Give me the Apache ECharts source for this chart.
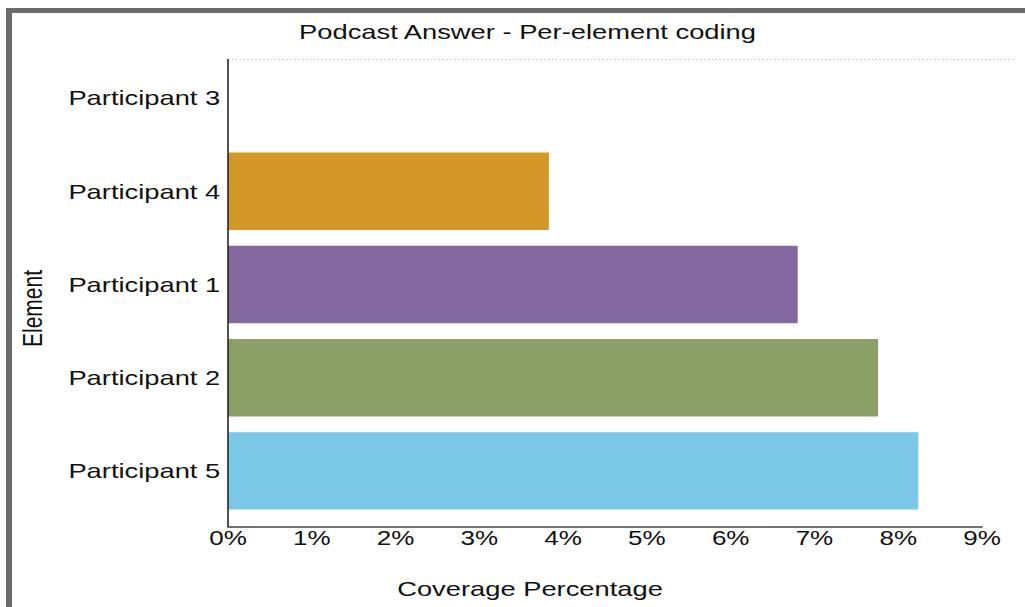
<!DOCTYPE html>
<html>
<head>
<meta charset="utf-8">
<style>
  html, body { margin: 0; padding: 0; background: #ffffff; overflow: hidden; }
  /* the chart is laid out at a narrower width and stretched horizontally */
  #chart { width: 788px; height: 607px; transform-origin: 0 0; transform: scaleX(1.30076); }
</style>
<script src="https://cdn.jsdelivr.net/npm/echarts@6/dist/echarts.min.js"></script>
</head>
<body>
<div id="chart"></div>
<script>
// Coverage per participant, listed top to bottom
const categories = ['Participant 3', 'Participant 4', 'Participant 1', 'Participant 2', 'Participant 5'];
const coverage = [0, 3.83, 6.80, 7.76, 8.24];
const barColors = ['#7ac8e6', '#d3972a', '#8468a0', '#8c9f67', '#7ac8e6'];
const xTicks = [0, 1, 2, 3, 4, 5, 6, 7, 8, 9];

const FONT = '"Liberation Sans", Arial, Helvetica, sans-serif';
const SX = 1025 / 788;          // horizontal stretch applied by CSS
const lx = x => x / SX;         // screen x -> layout x

const chart = echarts.init(document.getElementById('chart'), null, { renderer: 'svg' });

chart.setOption({
  backgroundColor: '#ffffff',
  animation: false,
  title: {
    text: 'Podcast Answer - Per-element coding',
    left: lx(521),
    top: 16,
    textAlign: 'center',
    textStyle: { fontFamily: FONT, fontSize: 21, fontWeight: 'normal', color: '#111111' }
  },
  grid: { left: lx(228), right: 788 - lx(982), top: 51.5, bottom: 89.5, containLabel: false },
  xAxis: {
    type: 'value',
    min: xTicks[0],
    max: xTicks[xTicks.length - 1],
    interval: 1,
    offset: 9.5,
    name: 'Coverage Percentage',
    nameLocation: 'middle',
    nameGap: 51,
    nameTextStyle: { fontFamily: FONT, fontSize: 21, color: '#111111', padding: [0, lx(150), 0, 0] },
    axisLine: { show: true, lineStyle: { color: '#444444', width: 1.5 } },
    axisTick: { show: false },
    splitLine: { show: false },
    axisLabel: {
      fontFamily: FONT, fontSize: 20, color: '#111111', margin: 1,
      formatter: v => v + '%'
    }
  },
  yAxis: {
    type: 'category',
    data: categories,
    inverse: true,
    name: 'Element',
    nameLocation: 'middle',
    nameGap: 140,
    nameRotate: 90,
    nameTextStyle: { fontFamily: FONT, fontSize: 21, color: '#111111', padding: [0, 48, 0, 0] },
    axisLine: { show: false },
    axisTick: { show: false },
    axisLabel: { fontFamily: FONT, fontSize: 21, color: '#111111', margin: 6 }
  },
  series: [{
    type: 'bar',
    data: coverage.map((v, i) => ({ value: v, itemStyle: { color: barColors[i] } })),
    barCategoryGap: '17%',
    silent: true
  }],
  graphic: [
    // outer frame, top and left edges
    { type: 'rect', shape: { x: lx(6), y: 8, width: 800, height: 5 }, style: { fill: '#6b6b6b' }, silent: true },
    { type: 'rect', shape: { x: lx(6), y: 8, width: lx(6), height: 610 }, style: { fill: '#6b6b6b' }, silent: true },
    // dotted line along the top of the plot area
    { type: 'line', shape: { x1: lx(228), y1: 59.5, x2: lx(1016), y2: 59.5 },
      style: { stroke: '#bbbbbb', lineWidth: 1, lineDash: [1, 2] }, silent: true },
    // vertical axis line from the dotted top down to the value axis
    { type: 'line', z: 10, shape: { x1: lx(228), y1: 59, x2: lx(228), y2: 527 },
      style: { stroke: '#222222', lineWidth: 1.2 }, silent: true }
  ]
});
</script>
</body>
</html>
